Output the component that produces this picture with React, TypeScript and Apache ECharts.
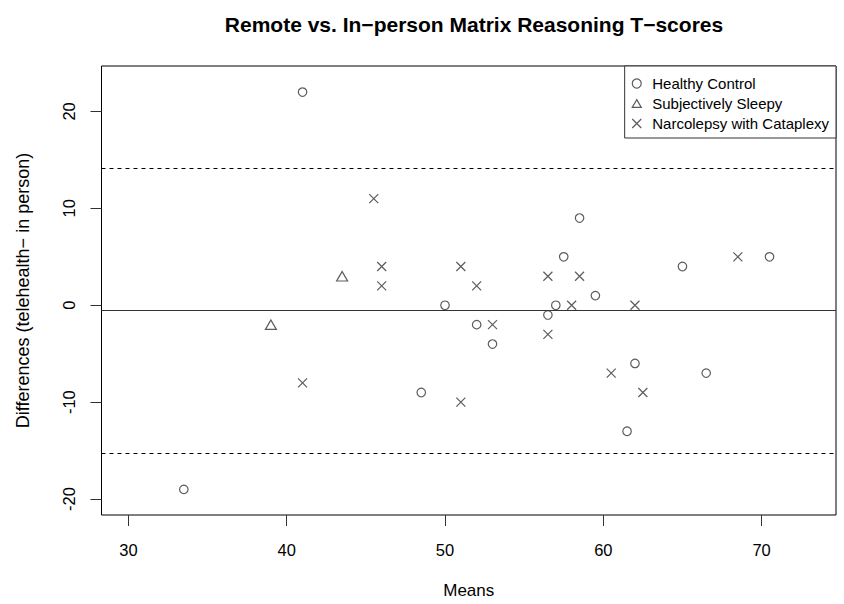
import React, { useEffect, useRef } from "react";
import * as echarts from "echarts";

// Means (x) and differences telehealth − in person (y)
const healthyMeans = [41, 33.5, 50, 52, 53, 48.5, 57.5, 59.5, 57, 56.5, 65, 70.5, 62, 66.5, 61.5, 58.5];
const healthyDiffs = [22, -19, 0, -2, -4, -9, 5, 1, 0, -1, 4, 5, -6, -7, -13, 9];
const sleepyMeans = [43.5, 39];
const sleepyDiffs = [3, -2];
const narcoMeans = [45.5, 46, 46, 41, 51, 52, 53, 51, 56.5, 58.5, 58, 56.5, 62, 68.5, 60.5, 62.5];
const narcoDiffs = [11, 4, 2, -8, 4, 2, -2, -10, 3, 3, 0, -3, 0, 5, -7, -9];

const groupNames = ["Healthy Control", "Subjectively Sleepy", "Narcolepsy with Cataplexy"];
const xTicks = [30, 40, 50, 60, 70];
const yTicks = [-20, -10, 0, 10, 20];

const FONT = "'Liberation Sans', Arial, Helvetica, sans-serif";
const INK = "#333";

const TRIANGLE = "path://M5,0L10,8.66L0,8.66Z";
const CROSS = "path://M0,0L10,10M10,0L0,10";

function pairs(xs: number[], ys: number[]) {
  return xs.map((x, i) => [x, ys[i]]);
}

export default function App() {
  const ref = useRef<HTMLDivElement>(null);

  useEffect(() => {
    if (!ref.current) return;
    const chart = echarts.init(ref.current, undefined, { renderer: "svg" });

    const all = [...healthyDiffs, ...sleepyDiffs, ...narcoDiffs];
    const n = all.length;
    const mean = all.reduce((a, b) => a + b, 0) / n;
    const sd = Math.sqrt(all.reduce((a, b) => a + (b - mean) * (b - mean), 0) / (n - 1));
    const upper = mean + 1.96 * sd;
    const lower = mean - 1.96 * sd;

    const hollow = { color: "rgba(0,0,0,0)", borderColor: INK, borderWidth: 1.2 };

    chart.setOption({
      animation: false,
      backgroundColor: "#fff",
      title: {
        text: "Remote vs. In\u2212person Matrix Reasoning T\u2212scores",
        left: 469,
        top: 9,
        textAlign: "center",
        textStyle: { fontFamily: FONT, fontSize: 21, fontWeight: "bold", color: "#000" },
      },
      grid: {
        left: 101.5,
        right: 8,
        top: 66,
        bottom: 86,
        show: true,
        borderColor: "#000",
        borderWidth: 1,
        backgroundColor: "transparent",
      },
      legend: {
        orient: "vertical",
        right: 8,
        top: 66,
        padding: [10, 7, 7, 7],
        itemGap: 5,
        itemWidth: 9,
        itemHeight: 9,
        borderColor: "#333",
        borderWidth: 1,
        backgroundColor: "#fff",
        textStyle: { fontFamily: FONT, fontSize: 15, color: "#000", lineHeight: 14, padding: [0, 0, 0, 6] },
        data: [
          { name: groupNames[0], icon: "circle", itemStyle: hollow },
          { name: groupNames[1], icon: TRIANGLE, itemStyle: hollow },
          { name: groupNames[2], icon: CROSS, itemStyle: hollow },
        ],
      },
      xAxis: {
        type: "value",
        min: 28.3,
        max: 74.7,
        name: "Means",
        nameLocation: "middle",
        nameGap: 67,
        nameTextStyle: { fontFamily: FONT, fontSize: 17, color: "#000" },
        axisLine: { show: false, onZero: false },
        axisTick: { show: true, inside: false, length: 11, customValues: xTicks, lineStyle: { color: INK } },
        axisLabel: { customValues: xTicks, margin: 26, fontFamily: FONT, fontSize: 16.5, color: "#000" },
        splitLine: { show: false },
      },
      yAxis: {
        type: "value",
        min: -21.64,
        max: 24.69,
        name: "Differences (telehealth\u2212 in person)",
        nameLocation: "middle",
        nameGap: 70,
        nameTextStyle: { fontFamily: FONT, fontSize: 18, color: "#000" },
        axisLine: { show: false, onZero: false },
        axisTick: { show: true, inside: false, length: 11, customValues: yTicks, lineStyle: { color: INK } },
        axisLabel: { customValues: yTicks, rotate: 90, margin: 24, fontFamily: FONT, fontSize: 16.5, color: "#000" },
        splitLine: { show: false },
      },
      series: [
        {
          name: groupNames[0],
          type: "scatter",
          symbol: "circle",
          symbolSize: 8.5,
          itemStyle: hollow,
          data: pairs(healthyMeans, healthyDiffs),
          markLine: {
            silent: true,
            symbol: "none",
            label: { show: false },
            data: [
              { yAxis: mean, lineStyle: { color: INK, width: 1, type: "solid" } },
              { yAxis: upper, lineStyle: { color: "#000", width: 1, type: [4, 4] } },
              { yAxis: lower, lineStyle: { color: "#000", width: 1, type: [4, 4] } },
            ],
          },
        },
        {
          name: groupNames[1],
          type: "scatter",
          symbol: TRIANGLE,
          symbolSize: [11, 9.5],
          itemStyle: hollow,
          data: pairs(sleepyMeans, sleepyDiffs),
        },
        {
          name: groupNames[2],
          type: "scatter",
          symbol: CROSS,
          symbolSize: 9,
          itemStyle: hollow,
          data: pairs(narcoMeans, narcoDiffs),
        },
      ],
    });

    return () => chart.dispose();
  }, []);

  return <div ref={ref} style={{ position: "absolute", left: 0, top: 0, width: 844, height: 604 }} />;
}
